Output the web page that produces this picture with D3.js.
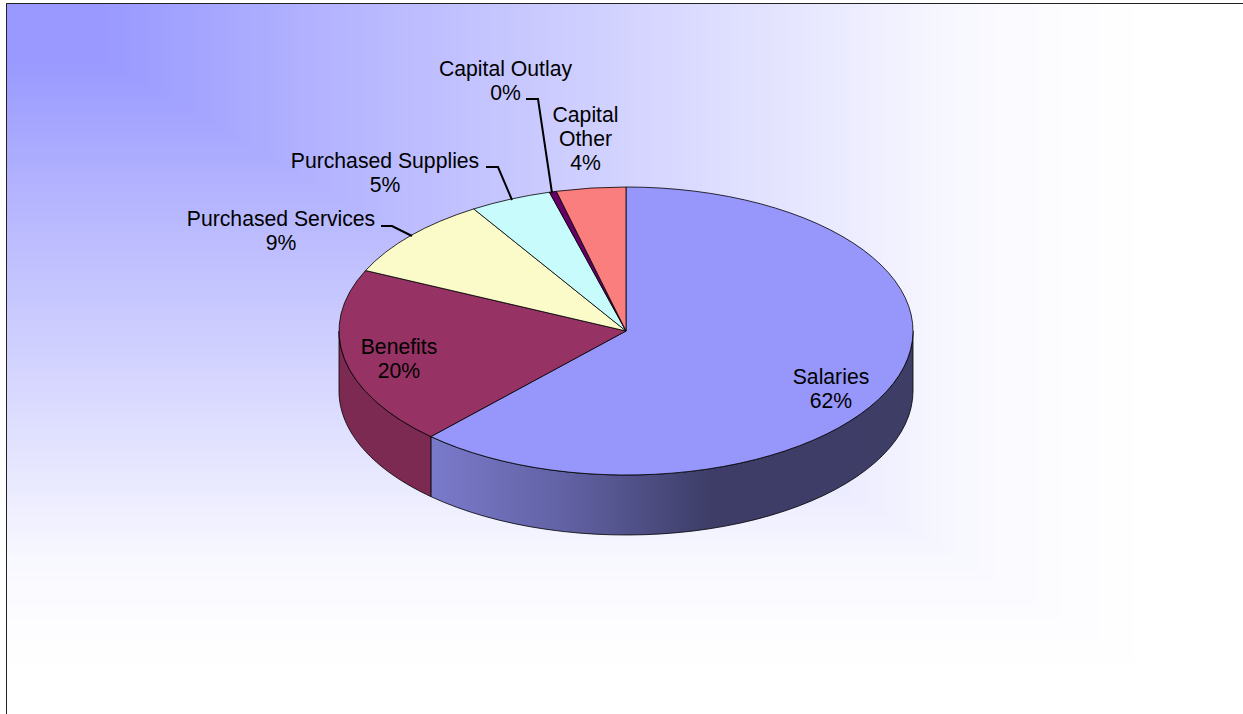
<!DOCTYPE html>
<html>
<head>
<meta charset="utf-8">
<script src="https://cdn.jsdelivr.net/npm/d3@7"></script>
<style>
html,body{margin:0;padding:0;background:#fff;overflow:hidden}
svg{display:block}
text{font-family:"Liberation Sans",Arial,sans-serif;font-size:21.2px;fill:#000}
</style>
</head>
<body>
<svg id="chart" width="1243" height="714"></svg>
<script>
// Budget shares, in percent, clockwise from twelve o'clock
const categories = ["Salaries","Benefits","Purchased Services","Purchased Supplies","Capital Outlay","Capital Other"];
const shares = [61.9,20.0,9.2,4.6,0.4,3.9];
const topColors = ["#9797fb","#963264","#fbfbc9","#c8fbfb","#660066","#fb7e7e"];
const wallColors = ["url(#wallFill)","#7d2a52","#cccca3","#a3cccc","#520052","#cc6666"];
// Label name split into lines, with its centre and first baseline
const labelLines = [["Salaries"],["Benefits"],["Purchased Services"],["Purchased Supplies"],["Capital Outlay"],["Capital","Other"]];
const labelAnchors = [[831,384],[399,354],[281,226],[385,168],[505.5,76],[585.5,122]];
const lineStep = 24.2;
// Leader polylines for the labels that sit outside the pie
const leaders = [null,null,[[381,226],[392,226],[412,236]],[[486,167],[498,167],[512,200]],[[526,99],[538,99],[552,193]],null];

const cx = 626, cy = 331, rx = 287, ry = 144, depth = 60;
const svg = d3.select("#chart");
const defs = svg.append("defs");

// Page wash: rectangular bands spreading from the upper-left corner to white
const washStops = [0,0.09,0.25,0.5,0.667,0.79,0.875,0.96,1];
const washColors = ["#9999ff","#9999ff","#b0b0ff","#d0d0ff","#e6e6ff","#f7f7ff","#fcfcff","#ffffff","#ffffff"];
const washScale = d3.scaleLinear().domain(washStops).range(washColors);
const washSteps = d3.range(240,0,-1).map(i=>i/200);
svg.append("g").selectAll("rect").data(washSteps).join("rect")
  .attr("x",0).attr("y",0)
  .attr("width",t=>t*1200).attr("height",t=>t*700)
  .attr("fill",t=>washScale(t));

const wallGrad = defs.append("linearGradient").attr("id","wallFill")
  .attr("gradientUnits","userSpaceOnUse").attr("x1",431).attr("x2",913).attr("y1",0).attr("y2",0);
[[0,"#7a7acc"],[0.3,"#5f5fa0"],[0.58,"#3d3d68"],[1,"#3d3d66"]]
  .forEach(([o,c])=>wallGrad.append("stop").attr("offset",o).attr("stop-color",c));

// Frame; its right and bottom edges fall outside the page
svg.append("rect").attr("x",6.5).attr("y",3.5).attr("width",1243).attr("height",714)
  .attr("fill","none").attr("stroke","#222").attr("stroke-width",1);
svg.append("rect").attr("x",0).attr("y",0).attr("width",6).attr("height",714).attr("fill","#fff");
svg.append("rect").attr("x",0).attr("y",0).attr("width",1243).attr("height",3).attr("fill","#fff");

const slices = d3.pie().sort(null).value(d=>d)(shares);
const rimPoint = (a,dy)=>[cx+rx*Math.sin(a),cy-ry*Math.cos(a)+dy];
const line = d3.line();

// Side wall: only the part of the rim facing the viewer is visible
function wallPath(s){
  const a0 = Math.max(s.startAngle,Math.PI/2), a1 = Math.min(s.endAngle,3*Math.PI/2);
  if(a1<=a0) return null;
  const angles = d3.range(0,41).map(i=>a0+(a1-a0)*i/40);
  const pts = angles.map(a=>rimPoint(a,0)).concat(angles.slice().reverse().map(a=>rimPoint(a,depth)));
  return line(pts)+"Z";
}
const chart = svg.append("g");
chart.selectAll("path.wall").data(slices).join("path").attr("class","wall")
  .attr("d",wallPath).attr("fill",(d,i)=>wallColors[i])
  .attr("stroke","#000").attr("stroke-width",0.8).attr("stroke-linejoin","round");

const arc = d3.arc().innerRadius(0).outerRadius(rx);
chart.selectAll("path.top").data(slices).join("path").attr("class","top")
  .attr("d",arc).attr("fill",(d,i)=>topColors[i])
  .attr("transform",`translate(${cx},${cy}) scale(1,${ry/rx})`)
  .attr("vector-effect","non-scaling-stroke")
  .attr("stroke","#000").attr("stroke-width",0.8).attr("stroke-linejoin","round");

svg.append("g").selectAll("path").data(leaders.filter(Boolean)).join("path")
  .attr("d",d=>line(d)).attr("fill","none").attr("stroke","#000").attr("stroke-width",2);

const labels = svg.append("g").selectAll("text").data(categories).join("text")
  .attr("text-anchor","middle");
labels.each(function(name,i){
  const t = d3.select(this), [x,y] = labelAnchors[i];
  labelLines[i].concat([d3.format(".0f")(shares[i])+"%"]).forEach((txt,k)=>{
    t.append("tspan").attr("x",x).attr("y",y+k*lineStep).text(txt);
  });
});
</script>
</body>
</html>
